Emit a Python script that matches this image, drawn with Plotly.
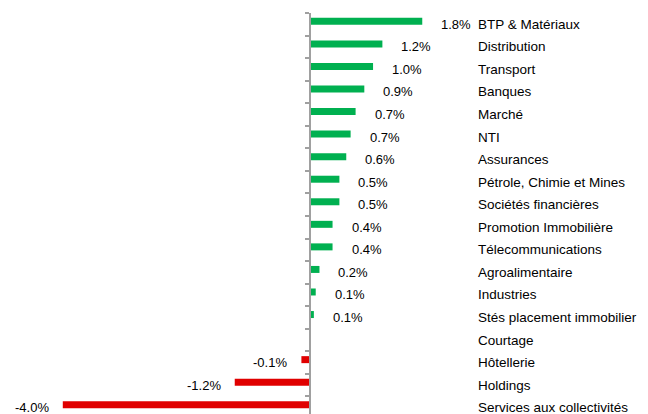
import plotly.graph_objects as go

categories = ["BTP & Matériaux", "Distribution", "Transport", "Banques", "Marché", "NTI",
              "Assurances", "Pétrole, Chimie et Mines", "Sociétés financières",
              "Promotion Immobilière", "Télecommunications", "Agroalimentaire", "Industries",
              "Stés placement immobilier", "Courtage", "Hôtellerie", "Holdings",
              "Services aux collectivités"]
values = [1.81, 1.17, 1.02, 0.88, 0.74, 0.66, 0.59, 0.48, 0.48, 0.37, 0.37, 0.16, 0.10,
          0.07, 0.0, -0.13, -1.20, -3.96]

GREEN = "#00B050"
RED = "#E00000"
# page body has an 8px margin: figure sized/shifted to compensate
W, H = 640, 406
PX_PER_UNIT = 62.3
ZERO_PX = 301.5
LABEL_PX = 468
FONT = "Liberation Sans, Arial, sans-serif"

colors = [GREEN if v >= 0 else RED for v in values]
bw = 0.31

fig = go.Figure()
fig.add_trace(go.Bar(
    y=categories, x=values, orientation="h",
    marker=dict(color=colors, line=dict(width=0)),
    width=bw, offset=-bw / 2 - 0.13,
    hoverinfo="skip",
))

annotations = []
for c, v in zip(categories, values):
    if v != 0:
        annotations.append(dict(
            x=v, y=c, xref="x", yref="y",
            text=f"{v:.1f}%", showarrow=False,
            xanchor="left" if v > 0 else "right",
            xshift=17 if v > 0 else -12,
            yanchor="middle",
            font=dict(family=FONT, size=13, color="#000000"),
        ))
    annotations.append(dict(
        x=LABEL_PX / W, y=c, xref="paper", yref="y",
        text=c, showarrow=False, xanchor="left", yanchor="middle",
        font=dict(family=FONT, size=13.5, color="#000000"),
    ))

fig.update_layout(
    width=W, height=H,
    margin=dict(l=0, r=0, t=5, b=0),
    paper_bgcolor="white", plot_bgcolor="white",
    showlegend=False,
    xaxis=dict(range=[-ZERO_PX / PX_PER_UNIT, (W - ZERO_PX) / PX_PER_UNIT],
               visible=False, showgrid=False, zeroline=False),
    yaxis=dict(type="category", categoryorder="array", categoryarray=categories,
               range=[17.28, -0.5], anchor="free", position=ZERO_PX / W,
               showline=True, linecolor="#A0A0A0", linewidth=2,
               ticks="outside", ticklen=4, tickcolor="#A0A0A0", tickwidth=1.5,
               tickson="boundaries", showticklabels=False, showgrid=False,
               zeroline=False),
    annotations=annotations,
)

fig.write_html("out.html")
